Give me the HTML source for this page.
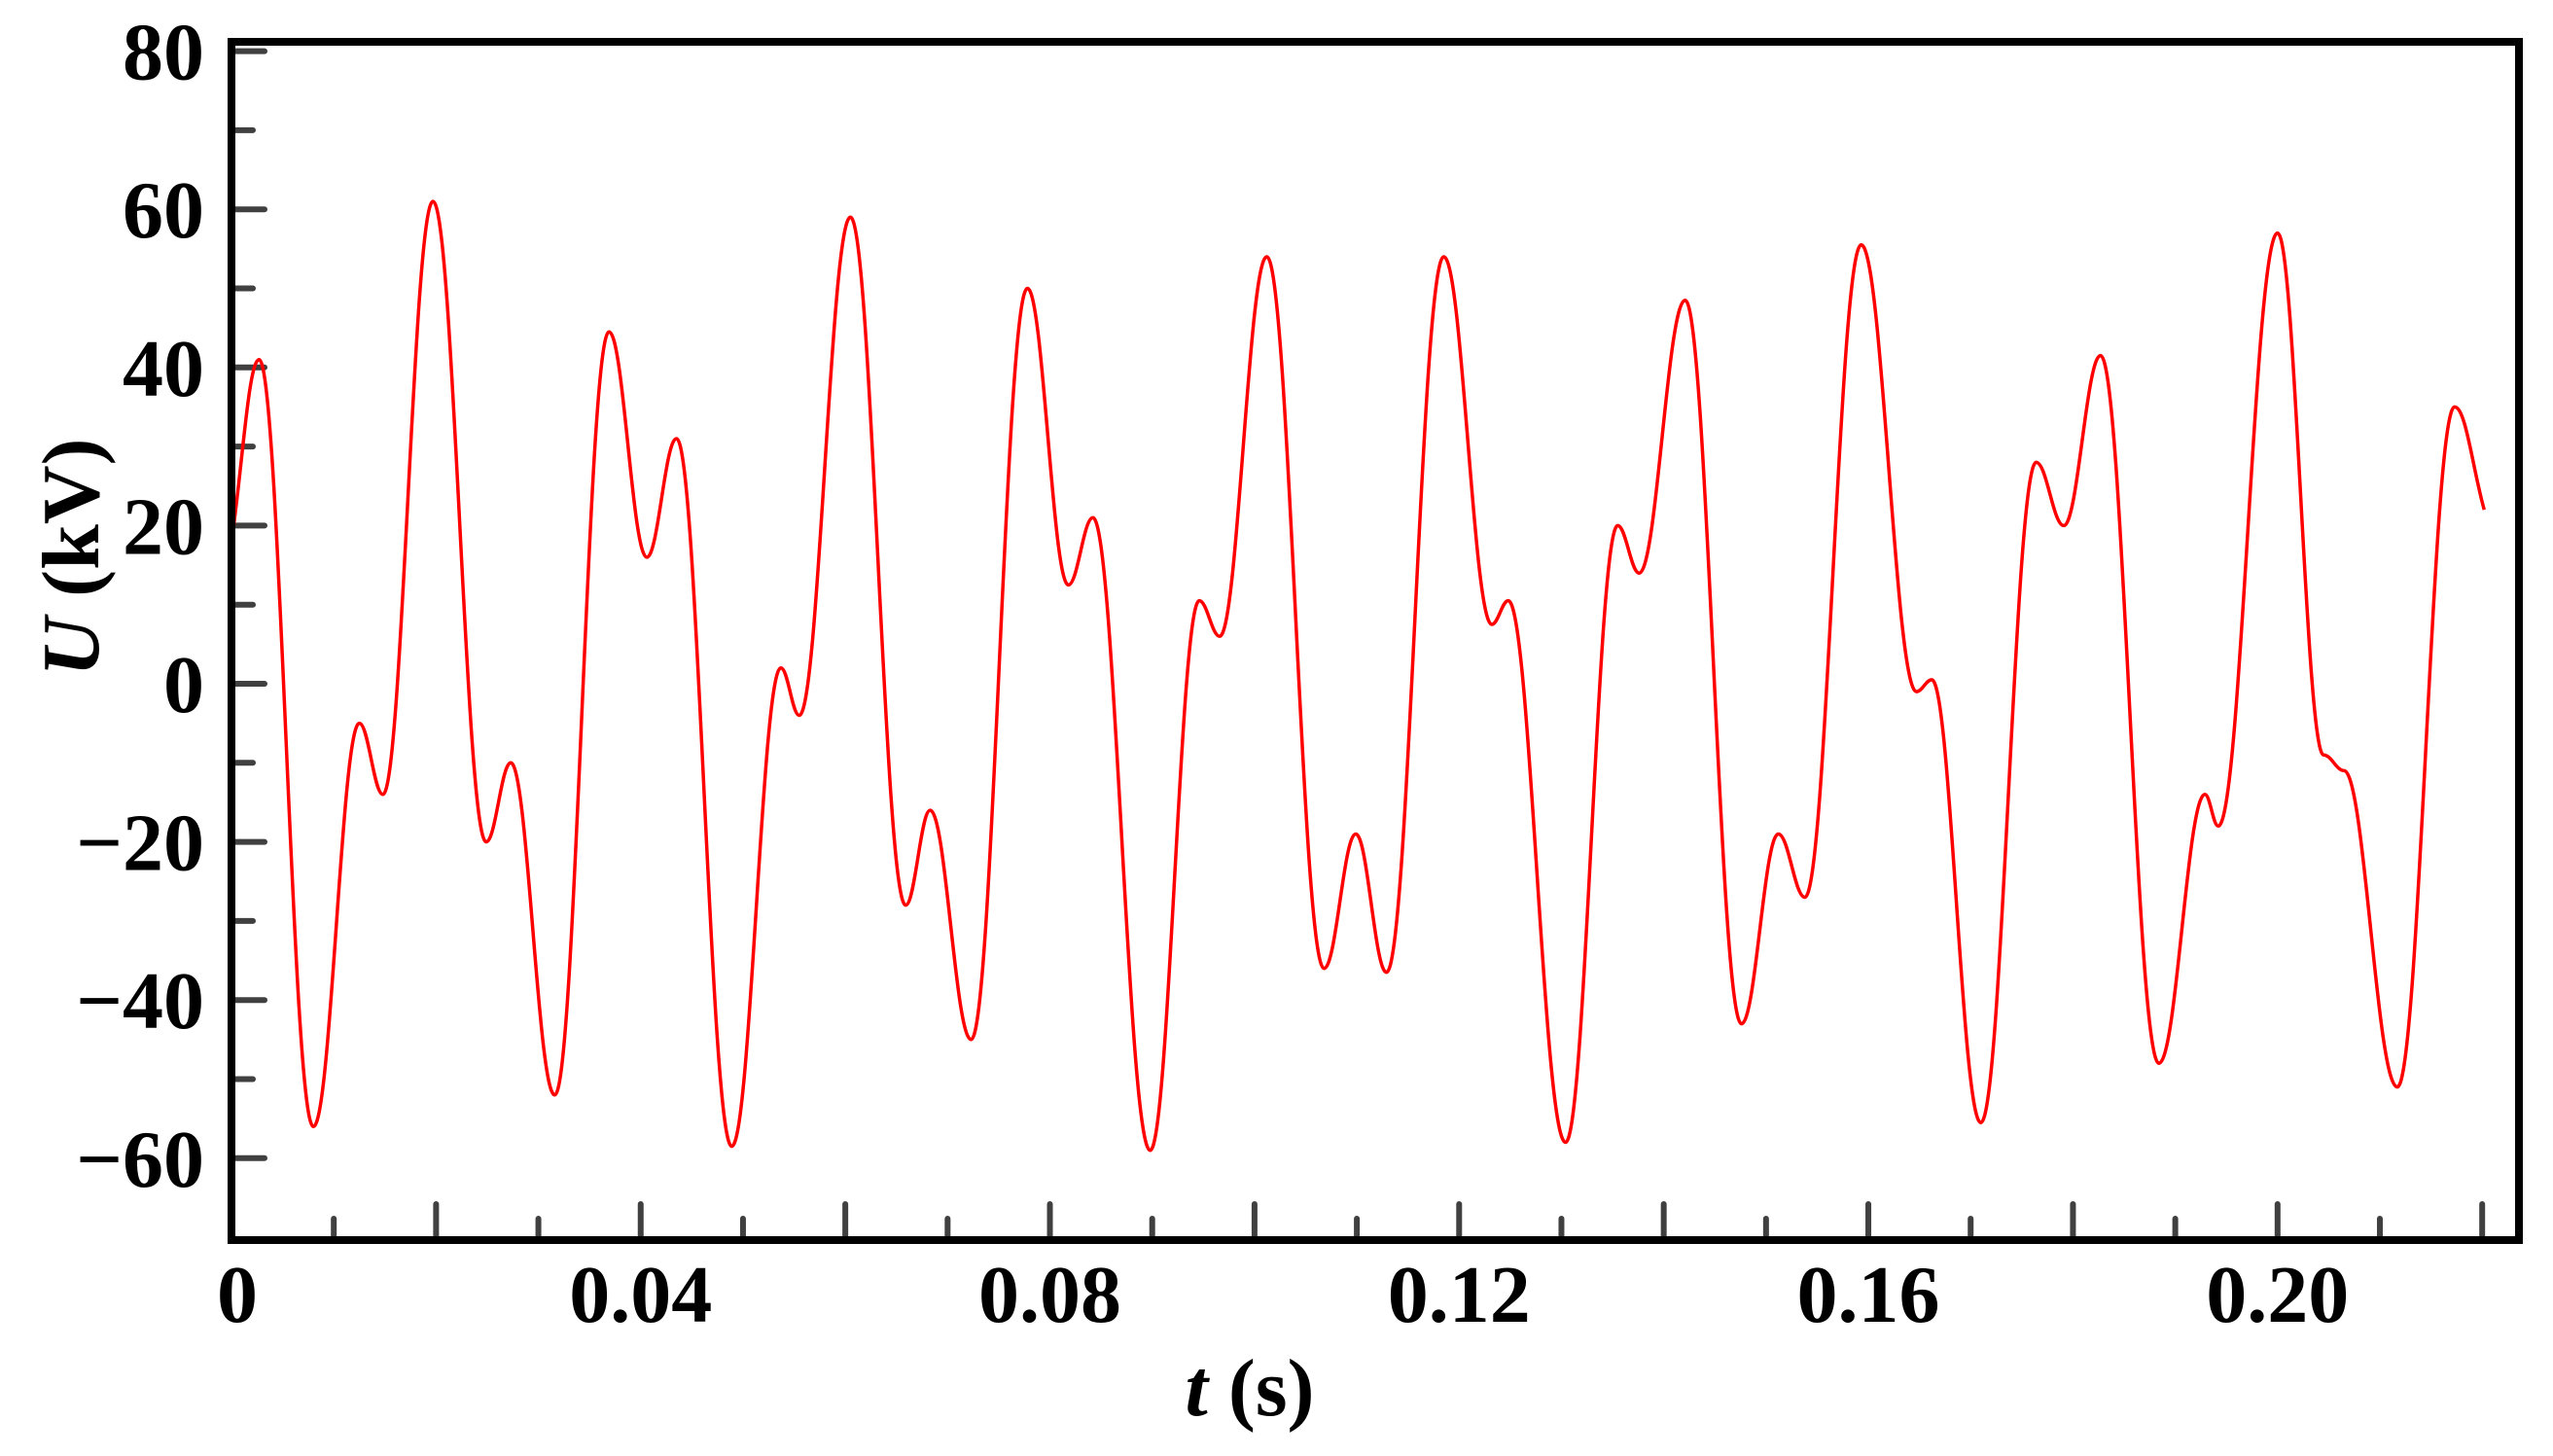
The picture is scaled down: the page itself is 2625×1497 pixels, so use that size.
<!DOCTYPE html>
<html><head><meta charset="utf-8">
<style>
html,body{margin:0;padding:0;background:#fff;}
svg{display:block;}
text{font-family:"Liberation Serif","Times New Roman",serif;font-weight:bold;fill:#000;}
</style></head>
<body>
<svg id="chart" width="2625" height="1497" viewBox="0 0 2625 1497" xmlns="http://www.w3.org/2000/svg">
<g id="grid"></g>
<path id="series" fill="none" stroke="#ff0000" stroke-width="3.5" stroke-linejoin="round"/>
<rect x="238" y="43" width="2352" height="1232" fill="none" stroke="#000" stroke-width="8"/>
<text x="1285" y="1455" font-size="84" text-anchor="middle"><tspan font-style="italic">t</tspan> (s)</text>
<text transform="translate(101,573) rotate(-90)" font-size="84" text-anchor="middle"><tspan font-style="italic">U</tspan> (kV)</text>
</svg>
<script>
const times = [0,0.0027,0.008,0.0125,0.0148,0.0197,0.0249,0.0273,0.0316,0.0369,0.0406,0.0435,0.0489,0.0537,0.0555,0.0605,0.0659,0.0683,0.0723,0.0778,0.0818,0.0842,0.0898,0.0946,0.0966,0.1012,0.1068,0.1099,0.1129,0.1185,0.1232,0.1248,0.1304,0.1355,0.1376,0.1421,0.1476,0.1512,0.1538,0.1593,0.1647,0.1662,0.1710,0.1764,0.1791,0.1827,0.1884,0.1929,0.1942,0.2,0.2045,0.2065,0.2117,0.2173,0.2202];
const volts = [18,41,-56,-5,-14,61,-20,-10,-52,44.5,16,31,-58.5,2,-4,59,-28,-16,-45,50,12.5,21,-59,10.5,6,54,-36,-19,-36.5,54,7.5,10.5,-58,20,14,48.5,-43,-19,-27,55.5,-1,0.5,-55.5,28,20,41.5,-48,-14,-18,57,-9,-11,-51,35,22];
const yTicks = [-60,-40,-20,0,20,40,60,80];
const yMinor = [-50,-30,-10,10,30,50,70];
const xLabels = [0,0.04,0.08,0.12,0.16,0.20];
const xLabelText = ["0","0.04","0.08","0.12","0.16","0.20"];
const xTicks = [0.01,0.02,0.03,0.04,0.05,0.06,0.07,0.08,0.09,0.10,0.11,0.12,0.13,0.14,0.15,0.16,0.17,0.18,0.19,0.20,0.21,0.22];

const X = t => 238 + 10519*t;
const Y = v => 703 - 8.13*v;
const NS = "http://www.w3.org/2000/svg";
const g = document.getElementById('grid');
function mk(tag, attrs){const e=document.createElementNS(NS,tag);for(const k in attrs)e.setAttribute(k,attrs[k]);g.appendChild(e);return e;}

yTicks.forEach(v=>{
  const l=mk('line',{x1:238,x2:272,y1:Y(v),y2:Y(v),stroke:'#404040','stroke-width':6,'stroke-linecap':'round'});
  
  
  const t=mk('text',{x:210,y:Y(v)+29,'font-size':84,'text-anchor':'end'});
  t.textContent = v<0 ? '\u2212'+Math.abs(v) : String(v);
  
  
});
yMinor.forEach(v=>{
  const l=mk('line',{x1:238,x2:260,y1:Y(v),y2:Y(v),stroke:'#404040','stroke-width':6,'stroke-linecap':'round'});
  
  
});
xTicks.forEach((t,i)=>{
  const len = (i%2===1)?37:22;
  const l=mk('line',{x1:X(t),x2:X(t),y1:1275,y2:1275-len,stroke:'#404040','stroke-width':6,'stroke-linecap':'round'});
  
  
});
xLabels.forEach((t,i)=>{
  const e=mk('text',{x:X(t)+(i===0?6:0),y:1359,'font-size':84,'text-anchor':'middle'});
  e.textContent=xLabelText[i];
  
  
});

// cubic Hermite with flat tangents at extrema
let d='M'+X(times[0]).toFixed(1)+','+Y(volts[0]).toFixed(1);
for(let i=1;i<times.length;i++){
  const x0=X(times[i-1]),y0=Y(volts[i-1]),x1=X(times[i]),y1=Y(volts[i]);
  const dx=(x1-x0)/2.6;
  let s0=0,s1=0;
  if(i-1===0) s0=(y1-y0)/(x1-x0);
  if(i===times.length-1) s1=(y1-y0)/(x1-x0);
  d+=' C'+(x0+dx).toFixed(1)+','+(y0+s0*dx).toFixed(1)+' '+(x1-dx).toFixed(1)+','+(y1-s1*dx).toFixed(1)+' '+x1.toFixed(1)+','+y1.toFixed(1);
}
document.getElementById('series').setAttribute('d',d);
</script>
</body></html>
